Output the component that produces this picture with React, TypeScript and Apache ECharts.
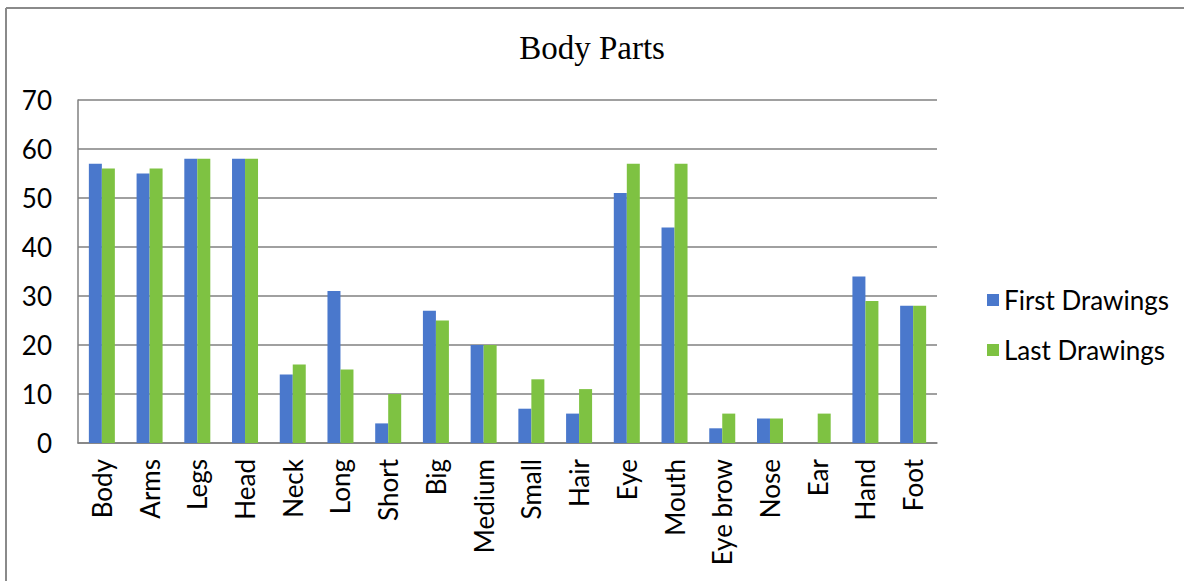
import React, { useEffect, useRef } from "react";
import * as echarts from "echarts";

const categories = ["Body", "Arms", "Legs", "Head", "Neck", "Long", "Short", "Big", "Medium", "Small", "Hair", "Eye", "Mouth", "Eye brow", "Nose", "Ear", "Hand", "Foot"];
const firstDrawings = [57, 55, 58, 58, 14, 31, 4, 27, 20, 7, 6, 51, 44, 3, 5, 0, 34, 28];
const lastDrawings = [56, 56, 58, 58, 16, 15, 10, 25, 20, 13, 11, 57, 57, 6, 5, 6, 29, 28];
const seriesNames = ["First Drawings", "Last Drawings"];
const titleText = "Body Parts";

const FONT = "Lato, 'Open Sans', sans-serif";

export default function App() {
  const ref = useRef<HTMLDivElement>(null);
  useEffect(() => {
    if (!ref.current) return;
    const chart = echarts.init(ref.current, null, { renderer: "svg" });
    chart.setOption({
      animation: false,
      backgroundColor: "#ffffff",
      title: {
        text: titleText,
        left: "center",
        top: 26,
        textStyle: { fontFamily: "'Liberation Serif', 'Times New Roman', serif", fontSize: 33, fontWeight: "normal", color: "#000" },
      },
      legend: {
        orient: "vertical",
        left: 982,
        top: 282,
        itemWidth: 12,
        itemHeight: 12,
        itemGap: 24,
        icon: "rect",
        textStyle: { fontFamily: FONT, fontSize: 26, color: "#000" },
        data: seriesNames,
      },
      grid: { left: 78, right: 247, top: 100, bottom: 138, containLabel: false },
      xAxis: {
        type: "category",
        data: categories,
        axisLine: { show: true, lineStyle: { color: "#808080", width: 1.5 } },
        axisTick: { show: false },
        axisLabel: { rotate: 90, interval: 0, margin: 16, fontFamily: FONT, fontSize: 26, color: "#000" },
      },
      yAxis: {
        type: "value",
        min: 0,
        max: 70,
        interval: 10,
        axisLine: { show: true, lineStyle: { color: "#808080", width: 1.5 } },
        axisTick: { show: false },
        splitLine: { show: true, lineStyle: { color: "#808080", width: 1.5 } },
        axisLabel: { margin: 26, fontFamily: FONT, fontSize: 26, color: "#000" },
      },
      series: [
        {
          name: seriesNames[0],
          type: "bar",
          data: firstDrawings,
          barWidth: 13,
          barGap: "0%",
          itemStyle: { color: "#4A78CC" },
        },
        {
          name: seriesNames[1],
          type: "bar",
          data: lastDrawings,
          barWidth: 13,
          barGap: "0%",
          itemStyle: { color: "#7EC242" },
        },
      ],
      graphic: [
        { type: "line", shape: { x1: 6, y1: 8, x2: 1184, y2: 8 }, style: { stroke: "#8a8a8a", lineWidth: 2 } },
        { type: "line", shape: { x1: 6, y1: 8, x2: 6, y2: 581 }, style: { stroke: "#8a8a8a", lineWidth: 2 } },
      ],
    });
    return () => chart.dispose();
  }, []);
  return <div ref={ref} style={{ position: "fixed", left: 0, top: 0, width: 1184, height: 581 }} />;
}
